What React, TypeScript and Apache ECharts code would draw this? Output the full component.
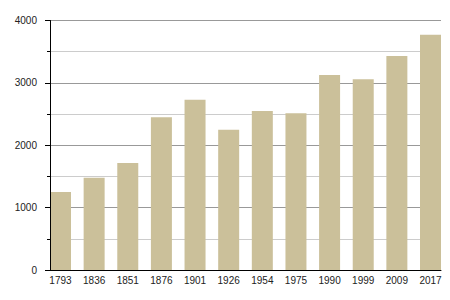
import React, { useEffect, useRef } from "react";
import * as echarts from "echarts";

const years = ["1793", "1836", "1851", "1876", "1901", "1926", "1954", "1975", "1990", "1999", "2009", "2017"];
const values = [1250, 1480, 1715, 2450, 2730, 2250, 2550, 2515, 3125, 3060, 3430, 3770];
const yMin = 0;
const yMax = 4000;
const yStep = 1000;
const gridValues = [500, 1000, 1500, 2000, 2500, 3000, 3500, 4000];

export default function App() {
  const ref = useRef<HTMLDivElement>(null);
  useEffect(() => {
    if (!ref.current) return;
    const chart = echarts.init(ref.current, null, { renderer: "svg" });
    const font = { fontFamily: "Liberation Sans, Arial, sans-serif", fontSize: 10, color: "#222" };
    chart.setOption({
      animation: false,
      backgroundColor: "#fff",
      grid: [
        { left: 50, right: 9, top: 20.5, bottom: 30 },
        { left: 43.68, right: 2.68, top: 20.5, bottom: 30 },
      ],
      xAxis: [
        {
          gridIndex: 0,
          type: "category",
          data: years,
          axisLine: { show: true, lineStyle: { color: "#000", width: 1 } },
          axisTick: { show: false },
          axisLabel: { show: false },
          splitLine: { show: false },
          z: 20,
        },
        {
          gridIndex: 1,
          type: "category",
          data: years,
          axisLine: { show: false },
          axisTick: { show: false },
          axisLabel: { ...font, margin: 5, interval: 0 },
          splitLine: { show: false },
        },
      ],
      yAxis: [
        {
          gridIndex: 0,
          type: "value",
          min: yMin,
          max: yMax,
          interval: yStep,
          z: 20,
          axisLine: { show: true, lineStyle: { color: "#000", width: 1 } },
          axisTick: { show: true, length: 5, lineStyle: { color: "#000" } },
          minorTick: { show: true, splitNumber: 2, length: 3, lineStyle: { color: "#000" } },
          axisLabel: { ...font, margin: 13, formatter: (v: number) => String(v) },
          splitLine: { show: false },
        },
        {
          gridIndex: 1,
          type: "value",
          min: yMin,
          max: yMax,
          interval: yStep,
          axisLine: { show: false },
          axisTick: { show: false },
          axisLabel: { show: false },
          splitLine: { show: false },
        },
      ],
      series: [
        {
          type: "line",
          xAxisIndex: 0,
          yAxisIndex: 0,
          data: [],
          z: 1,
          silent: true,
          markLine: {
            silent: true,
            symbol: "none",
            label: { show: false },
            emphasis: { disabled: true },
            data: gridValues.map((v) => ({
              yAxis: v,
              lineStyle: { color: v % yStep === 0 ? "#999" : "#ccc", width: 1, type: "solid" },
            })),
          },
        },
        {
          type: "bar",
          xAxisIndex: 1,
          yAxisIndex: 1,
          data: values,
          barWidth: 21,
          itemStyle: { color: "#cbc09a" },
          z: 10,
        },
      ],
    });
    return () => chart.dispose();
  }, []);
  return <div ref={ref} style={{ position: "fixed", left: 0, top: 0, width: 450, height: 300 }} />;
}
